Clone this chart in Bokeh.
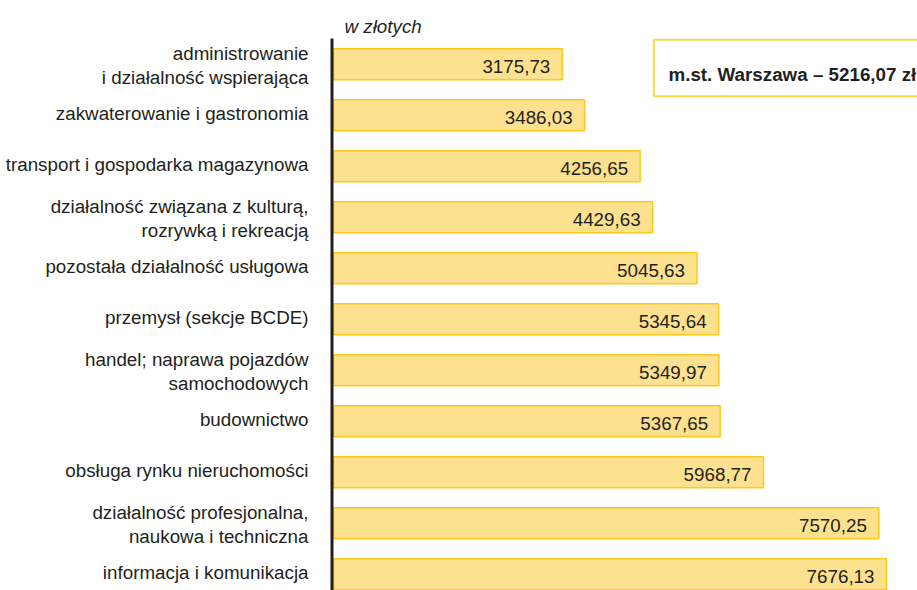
from bokeh.plotting import figure
from bokeh.models import Range1d, ColumnDataSource
from bokeh.core.properties import value
from bokeh.embed import file_html
from bokeh.resources import INLINE

# ---- data ----
categories = [
    "administrowanie\ni działalność wspierająca",
    "zakwaterowanie i gastronomia",
    "transport i gospodarka magazynowa",
    "działalność związana z kulturą,\nrozrywką i rekreacją",
    "pozostała działalność usługowa",
    "przemysł (sekcje BCDE)",
    "handel; naprawa pojazdów\nsamochodowych",
    "budownictwo",
    "obsługa rynku nieruchomości",
    "działalność profesjonalna,\nnaukowa i techniczna",
    "informacja i komunikacja",
]
values = [3175.73, 3486.03, 4256.65, 4429.63, 5045.63, 5345.64,
          5349.97, 5367.65, 5968.77, 7570.25, 7676.13]
value_labels = ["3175,73", "3486,03", "4256,65", "4429,63", "5045,63", "5345,64",
                "5349,97", "5367,65", "5968,77", "7570,25", "7676,13"]
unit_label = "w złotych"
total_label = "m.st. Warszawa – 5216,07 zł"

# ---- layout ----
W, H = 917, 590
PX_PER_UNIT = 0.07204
ZERO_PX = 333.0
ROW_PX = 51.0
FIRST_CENTER_PX = 63.8

x_start = -ZERO_PX / PX_PER_UNIT
x_end = (W - ZERO_PX) / PX_PER_UNIT
y_top = -FIRST_CENTER_PX / ROW_PX
y_bottom = (H - FIRST_CENTER_PX) / ROW_PX

def px_x(px):
    return (px - ZERO_PX) / PX_PER_UNIT

def px_y(py):
    return (py - FIRST_CENTER_PX) / ROW_PX

FONT = "Liberation Sans"
TEXT_COLOR = "#231f20"
FS = "18.8px"

idx = list(range(len(categories)))
single = ["\n" not in c for c in categories]
src = ColumnDataSource(dict(
    y=idx, v=values, lab=value_labels, cat=categories,
    yoff=[-2 if s else 1 for s in single],
))

p = figure(width=W, height=H, x_range=Range1d(x_start, x_end),
           y_range=Range1d(start=y_bottom, end=y_top),
           output_backend="svg", toolbar_location=None,
           x_axis_type=None, y_axis_type=None, min_border=0)
p.outline_line_color = None
p.background_fill_color = "white"
p.border_fill_color = "white"

# bars
p.hbar(y="y", left=0, right="v", height=31.0 / ROW_PX, source=src,
       fill_color="#fee18f", line_color="#fcc918", line_width=1.5)

# axis line
p.segment(x0=px_x(ZERO_PX - 1.5), x1=px_x(ZERO_PX - 1.5),
          y0=px_y(38), y1=y_bottom, line_color=TEXT_COLOR, line_width=3)

# value labels
p.text(x="v", y="y", text="lab", source=src, x_offset=-12, y_offset=2,
       text_align="right", text_baseline="middle",
       text_font=value(FONT), text_font_size=FS, text_color=TEXT_COLOR)

# category labels
p.text(x=0, y="y", text="cat", source=src, x_offset=-25, y_offset="yoff",
       text_align="right", text_baseline="middle", text_line_height=1.15,
       text_font=value(FONT), text_font_size=FS, text_color=TEXT_COLOR)

# unit label
p.text(x=[0], y=[px_y(26)], text=[unit_label], x_offset=11,
       text_align="left", text_baseline="alphabetic",
       text_font=value(FONT), text_font_size=FS,
       text_font_style="italic", text_color=TEXT_COLOR)

# total box
p.quad(left=[px_x(653.3)], right=[px_x(W + 20)], top=[px_y(39.3)], bottom=[px_y(95.7)],
       fill_color="white", line_color="#fcd846", line_width=2)
p.text(x=[px_x(668)], y=[px_y(74)], text=[total_label],
       text_align="left", text_baseline="alphabetic",
       text_font=value(FONT), text_font_size=FS,
       text_font_style="bold", text_color=TEXT_COLOR)

open("out.html", "w").write(file_html(p, INLINE))
